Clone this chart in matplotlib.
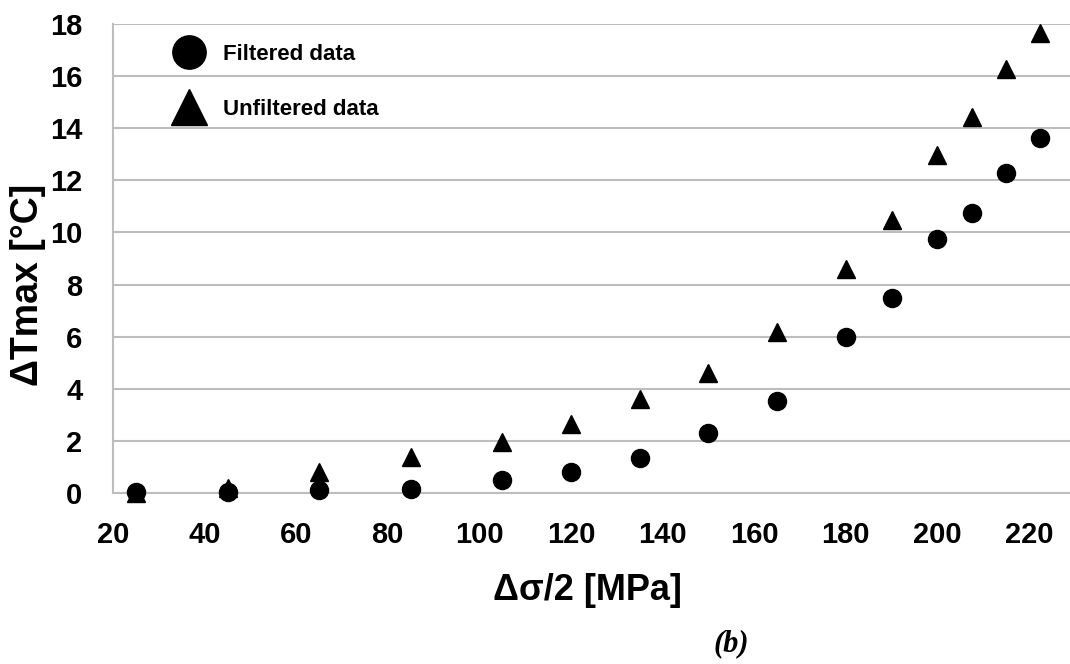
import matplotlib
matplotlib.use("Agg")
import matplotlib.pyplot as plt
from matplotlib.lines import Line2D

stress_amp = [25, 45, 65, 85, 105, 120, 135, 150, 165, 180, 190, 200, 207.5, 215, 222.5]
filtered = [0.02, 0.05, 0.1, 0.15, 0.5, 0.81, 1.34, 2.3, 3.53, 6.0, 7.5, 9.75, 10.75, 12.3, 13.62]
unfiltered = [0.0, 0.2, 0.8, 1.38, 1.96, 2.65, 3.6, 4.6, 6.18, 8.6, 10.48, 12.97, 14.43, 16.27, 17.65]
x_ticks = [20, 40, 60, 80, 100, 120, 140, 160, 180, 200, 220]
y_ticks = [0, 2, 4, 6, 8, 10, 12, 14, 16, 18]

plt.rcParams['font.family'] = ['Liberation Sans', 'DejaVu Sans']

fig = plt.figure(figsize=(10.7, 6.64), dpi=100)
W, H = 1070, 664
ax = fig.add_axes([113 / W, 1 - 493 / H, (1072 - 113) / W, (493 - 24) / H])

ax.set_xlim(20, 20 + (1072 - 113) / 4.58)
ax.set_ylim(0, 18)
ax.set_xticks(x_ticks)
ax.set_yticks(y_ticks)
ax.grid(axis='y', color='#bdbdbd', linewidth=1.5)
ax.set_axisbelow(True)
for s in ['top', 'right']:
    ax.spines[s].set_visible(False)
for s in ['left', 'bottom']:
    ax.spines[s].set_color('#bdbdbd')
    ax.spines[s].set_linewidth(1.5)
ax.tick_params(axis='both', length=0, labelsize=21)
ax.tick_params(axis='y', pad=22)
ax.tick_params(axis='x', pad=20)
for lab in ax.get_xticklabels() + ax.get_yticklabels():
    lab.set_fontweight('bold')

ax.plot(stress_amp, unfiltered, linestyle='none', marker='^', color='black', markersize=13, clip_on=False, zorder=3)
ax.plot(stress_amp, filtered, linestyle='none', marker='o', color='black', markersize=13, clip_on=False, zorder=4)

fig.text(587 / W, 1 - 591 / H, 'Δσ/2 [MPa]', fontsize=26, fontweight='bold', ha='center', va='center')
fig.text(28 / W, 1 - 285 / H, 'ΔTmax [°C]', fontsize=27, fontweight='bold', ha='center', va='center', rotation=90)

handles = [Line2D([], [], linestyle='none', marker='o', color='black', markersize=24),
           Line2D([], [], linestyle='none', marker='^', color='black', markersize=26)]
leg = ax.legend(handles, ['Filtered data', 'Unfiltered data'], loc='upper left',
                bbox_to_anchor=(0.045, 0.99), frameon=False,
                prop={'size': 16, 'weight': 'bold'}, labelspacing=1.5,
                handlelength=1.6, handletextpad=0.7, borderaxespad=0.3)

fig.text(731 / W, 1 - 644 / H, '(b)', fontsize=22, fontweight='bold', fontstyle='italic',
         family='Liberation Serif', ha='center', va='center')

fig.savefig('out.png', dpi=100)
